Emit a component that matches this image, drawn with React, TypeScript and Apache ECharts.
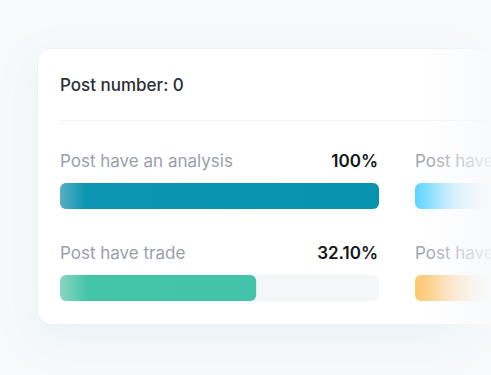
import React, { useEffect, useRef } from "react";
import * as echarts from "echarts";

const title = "Post number: 0";
const leftCategories = ["Post have an analysis", "Post have trade"];
const leftValues = [100, 61.5];
const leftLabels = ["100%", "32.10%"];
const rightCategories = ["Post have a chart", "Post have a signal"];
const rightValues = [100, 100];

const FONT = "Inter, 'Noto Sans', sans-serif";

export default function App() {
  const ref = useRef<HTMLDivElement>(null);
  useEffect(() => {
    if (!ref.current) return;
    const chart = echarts.init(ref.current, null, { renderer: "svg" });
    const grad = (stops: [number, string][]) => ({
      type: "linear",
      x: 0,
      y: 0,
      x2: 1,
      y2: 0,
      colorStops: stops.map(([offset, color]) => ({ offset, color })),
    });
    const globalGrad = (stops: [number, string][]) => ({
      type: "linear",
      x: 415,
      y: 0,
      x2: 495,
      y2: 0,
      global: true,
      colorStops: stops.map(([offset, color]) => ({ offset, color })),
    });
    const leftStyles = [
      grad([
        [0, "#5aaec3"],
        [0.08, "#0b95b2"],
        [1, "#0893b1"],
      ]),
      grad([
        [0, "#8ad6c5"],
        [0.14, "#44c5aa"],
        [1, "#42c4aa"],
      ]),
    ];
    const rightStyles = [
      globalGrad([
        [0, "#55d3ff"],
        [0.45, "#b8eaff"],
        [1, "#ffffff"],
      ]),
      globalGrad([
        [0, "#ffc467"],
        [0.45, "#fcdcaf"],
        [1, "#ffffff"],
      ]),
    ];
    const rowCenters = [196, 288];
    const texts: any[] = [];
    leftCategories.forEach((c, i) => {
      texts.push({
        type: "text",
        x: 60,
        y: rowCenters[i] - 35,
        z: 10,
        style: {
          text: c,
          font: `400 17px ${FONT}`,
          fill: "#9a9ea9",
          textVerticalAlign: "middle",
        },
      });
      texts.push({
        type: "text",
        x: 378,
        y: rowCenters[i] - 35,
        z: 10,
        style: {
          text: leftLabels[i],
          font: `600 17px ${FONT}`,
          fill: "#141518",
          textAlign: "right",
          textVerticalAlign: "middle",
        },
      });
    });
    rightCategories.forEach((c, i) => {
      texts.push({
        type: "text",
        x: 415,
        y: rowCenters[i] - 35,
        z: 10,
        style: {
          text: c,
          font: `400 17px ${FONT}`,
          fill: "#9a9ea9",
          textVerticalAlign: "middle",
        },
      });
    });
    const yAxisBase = {
      type: "category",
      inverse: true,
      axisLine: { show: false },
      axisTick: { show: false },
      axisLabel: { show: false },
    };
    const xAxisBase = {
      type: "value",
      min: 0,
      max: 100,
      show: false,
      splitLine: { show: false },
    };
    chart.setOption({
      animation: false,
      backgroundColor: "#f7f9fb",
      grid: [
        { left: 60, top: 150, width: 319, height: 184 },
        { left: 415, top: 150, width: 319, height: 184 },
      ],
      xAxis: [
        { ...xAxisBase, gridIndex: 0 },
        { ...xAxisBase, gridIndex: 1 },
      ],
      yAxis: [
        { ...yAxisBase, gridIndex: 0, data: leftCategories },
        { ...yAxisBase, gridIndex: 1, data: rightCategories },
      ],
      series: [
        {
          type: "bar",
          xAxisIndex: 0,
          yAxisIndex: 0,
          barWidth: 26,
          z: 5,
          showBackground: true,
          backgroundStyle: { color: "#f5f6f8", borderRadius: 6 },
          data: leftValues.map((v, i) => ({
            value: v,
            itemStyle: { color: leftStyles[i], borderRadius: 6 },
          })),
        },
        {
          type: "bar",
          xAxisIndex: 1,
          yAxisIndex: 1,
          barWidth: 26,
          z: 5,
          data: rightValues.map((v, i) => ({
            value: v,
            itemStyle: { color: rightStyles[i], borderRadius: 6 },
          })),
        },
      ],
      graphic: [
        {
          type: "rect",
          z: -10,
          shape: { x: 37.5, y: 48.5, width: 520, height: 276, r: 14 },
          style: {
            fill: "#ffffff",
            stroke: "#eef0f3",
            lineWidth: 1,
            shadowColor: "rgba(140,205,225,0.14)",
            shadowBlur: 36,
            shadowOffsetY: 14,
          },
        },
        {
          type: "text",
          x: 60,
          y: 85,
          z: 10,
          style: {
            text: title,
            font: `500 17px ${FONT}`,
            fill: "#2c2e33",
            textVerticalAlign: "middle",
          },
        },
        {
          type: "line",
          z: 10,
          shape: { x1: 60, y1: 120.5, x2: 491, y2: 120.5 },
          style: { stroke: "#f1f2f4", lineWidth: 1 },
        },
        ...texts,
        {
          type: "rect",
          z: 100,
          shape: { x: 405, y: 0, width: 86, height: 375 },
          style: {
            fill: {
              type: "linear",
              x: 0,
              y: 0,
              x2: 1,
              y2: 0,
              colorStops: [
                { offset: 0, color: "rgba(247,249,251,0)" },
                { offset: 0.3, color: "rgba(247,249,251,0.1)" },
                { offset: 1, color: "rgba(247,249,251,0.9)" },
              ],
            },
          },
        },
      ],
    } as any);
    return () => chart.dispose();
  }, []);
  return (
    <div
      ref={ref}
      style={{ position: "fixed", left: 0, top: 0, width: 491, height: 375 }}
    />
  );
}
